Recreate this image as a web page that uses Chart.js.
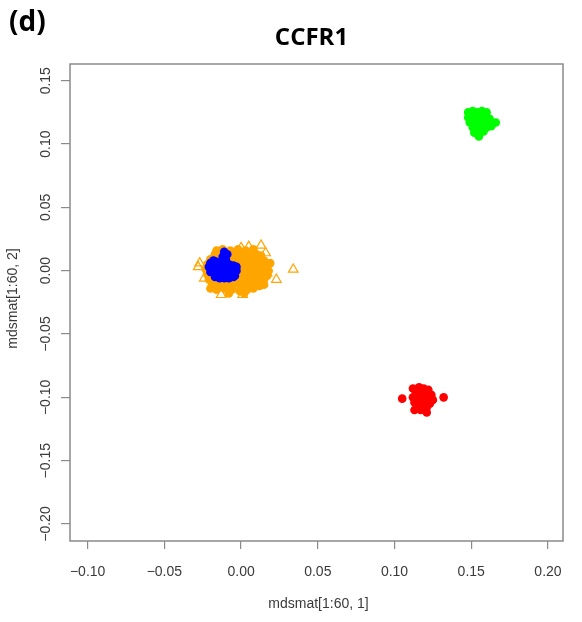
<!DOCTYPE html>
<html>
<head>
<meta charset="utf-8">
<title>CCFR1</title>
<script src="https://cdn.jsdelivr.net/npm/chart.js@4"></script>
<style>
  html, body { margin: 0; padding: 0; background: #fff; }
  canvas { display: block; }
</style>
</head>
<body>
<canvas id="mdsChart" width="582" height="622"></canvas>
<script>
// MDS coordinates, [dim 1, dim 2]
const orangeDots = [
  [-0.012, 0.017], [-0.007, 0.016], [-0.002, 0.017], [0.003, 0.016], [0.008, 0.017],
  [-0.017, 0.013], [-0.013, 0.012], [-0.008, 0.013], [-0.004, 0.012], [0.001, 0.013], [0.005, 0.012], [0.010, 0.013], [0.013, 0.012],
  [-0.020, 0.009], [-0.016, 0.008], [-0.011, 0.009], [-0.006, 0.008], [-0.002, 0.009], [0.003, 0.010], [0.007, 0.008], [0.011, 0.009], [0.015, 0.008],
  [-0.022, 0.005], [-0.018, 0.004], [-0.013, 0.005], [-0.009, 0.006], [-0.004, 0.004], [0.001, 0.005], [0.005, 0.006], [0.009, 0.004], [0.013, 0.005], [0.017, 0.004],
  [-0.023, 0.001], [-0.019, 0.000], [-0.014, 0.001], [-0.010, 0.002], [-0.005, 0.000], [0.000, 0.001], [0.004, 0.002], [0.008, 0.000], [0.012, 0.001], [0.016, 0.002], [0.018, 0.000],
  [-0.022, -0.003], [-0.018, -0.004], [-0.013, -0.002], [-0.008, -0.003], [-0.004, -0.004], [0.001, -0.003], [0.005, -0.002], [0.010, -0.004], [0.014, -0.003], [0.017, -0.004],
  [-0.021, -0.007], [-0.016, -0.008], [-0.012, -0.006], [-0.007, -0.007], [-0.002, -0.008], [0.002, -0.006], [0.007, -0.007], [0.011, -0.008], [0.015, -0.007],
  [-0.019, -0.011], [-0.014, -0.012], [-0.009, -0.010], [-0.005, -0.011], [0.000, -0.012], [0.004, -0.010], [0.009, -0.011], [0.012, -0.012],
  [-0.016, -0.015], [-0.011, -0.014], [-0.006, -0.015], [-0.001, -0.016], [0.004, -0.015], [0.008, -0.014],
  [-0.008, -0.018], [0.002, -0.018], [-0.020, -0.014], [0.015, -0.011], [0.019, 0.006], [-0.016, 0.016]
];

const orangeTriangles = [
  [0.013, 0.020], [0.034, 0.001], [0.023, -0.007], [0.017, -0.002], [-0.013, -0.019],
  [0.001, -0.019], [-0.028, 0.003], [-0.027, 0.006], [0.000, 0.018], [0.005, 0.019],
  [0.016, 0.014], [-0.024, -0.006]
];

const blueDots = [
  [-0.011, 0.015], [-0.009, 0.013], [-0.012, 0.011], [-0.010, 0.009],
  [-0.020, 0.006], [-0.018, 0.008], [-0.016, 0.007], [-0.014, 0.006], [-0.008, 0.005], [-0.005, 0.004], [-0.003, 0.003],
  [-0.021, 0.003], [-0.019, 0.002], [-0.016, 0.003], [-0.013, 0.002], [-0.011, 0.003], [-0.008, 0.001], [-0.006, 0.002], [-0.003, 0.000],
  [-0.020, -0.001], [-0.017, -0.002], [-0.014, -0.001], [-0.012, -0.003], [-0.009, -0.002], [-0.006, -0.003], [-0.004, -0.004],
  [-0.017, -0.005], [-0.014, -0.006], [-0.011, -0.006], [-0.008, -0.006], [-0.005, -0.005]
];

const redDots = [
  [0.105, -0.101], [0.132, -0.100], [0.121, -0.112], [0.112, -0.093], [0.113, -0.110],
  [0.116, -0.092], [0.119, -0.093], [0.122, -0.094], [0.114, -0.096], [0.117, -0.097],
  [0.121, -0.097], [0.124, -0.098], [0.112, -0.100], [0.115, -0.100], [0.118, -0.101],
  [0.122, -0.101], [0.125, -0.102], [0.113, -0.104], [0.116, -0.104], [0.120, -0.105],
  [0.123, -0.105], [0.115, -0.107], [0.118, -0.108], [0.121, -0.108], [0.117, -0.110]
];

const greenDots = [
  [0.148, 0.125], [0.151, 0.126], [0.154, 0.125], [0.157, 0.126], [0.160, 0.125],
  [0.148, 0.121], [0.151, 0.122], [0.154, 0.121], [0.157, 0.122], [0.160, 0.121], [0.162, 0.120],
  [0.149, 0.117], [0.152, 0.118], [0.155, 0.117], [0.158, 0.117], [0.161, 0.117], [0.164, 0.116], [0.166, 0.117],
  [0.151, 0.113], [0.154, 0.113], [0.157, 0.112], [0.160, 0.113], [0.163, 0.114],
  [0.152, 0.109], [0.155, 0.109], [0.158, 0.110], [0.155, 0.106]
];

const xTicks = { min: -0.1115, max: 0.2098, step: 0.05 };
const yTicks = { min: -0.2134, max: 0.1632, step: 0.05 };

const toXY = arr => arr.map(p => ({ x: p[0], y: p[1] }));

// R style tick text: two decimals, true minus sign
function fmt(v) {
  if (Math.abs(v) < 1e-9) return '0.00';
  return v.toFixed(2).replace('-', '\u2212');
}

const axisGray = '#8a8a8a';
const textGray = '#3a3a3a';

// frame, titles and axis labels
const decorations = {
  id: 'decorations',
  beforeDatasetsDraw(chart) {
    const { ctx, chartArea: a } = chart;
    ctx.save();
    ctx.strokeStyle = axisGray;
    ctx.lineWidth = 1.5;
    ctx.strokeRect(a.left, a.top, a.right - a.left, a.bottom - a.top);
    ctx.restore();
  },
  afterDraw(chart) {
    const { ctx, chartArea: a } = chart;
    const cx = (a.left + a.right) / 2;
    const cy = (a.top + a.bottom) / 2;
    ctx.save();
    ctx.fillStyle = '#000';
    ctx.textBaseline = 'middle';
    ctx.font = 'bold 28px "Open Sans"';
    ctx.textAlign = 'left';
    ctx.fillText('(d)', 9, 23);
    ctx.font = 'bold 24px "Open Sans"';
    ctx.textAlign = 'center';
    ctx.fillText('CCFR1', cx - 5, 38);

    ctx.fillStyle = textGray;
    ctx.font = '14px "Liberation Sans"';
    ctx.fillText('mdsmat[1:60, 1]', cx + 2, 604);
    ctx.translate(13, cy - 4);
    ctx.rotate(-Math.PI / 2);
    ctx.fillText('mdsmat[1:60, 2]', 0, 0);
    ctx.restore();
  }
};

const dotSet = (label, pts, color, order) => ({
  label: label,
  data: toXY(pts),
  pointStyle: 'circle',
  pointRadius: 4.3,
  pointBorderWidth: 0,
  backgroundColor: color,
  borderColor: color,
  order: order
});

new Chart(document.getElementById('mdsChart'), {
  type: 'scatter',
  data: {
    datasets: [
      dotSet('orange', orangeDots, '#FFA500', 4),
      {
        label: 'orange (open)',
        data: toXY(orangeTriangles),
        pointStyle: 'triangle',
        pointRadius: 5.5,
        pointBorderWidth: 1.2,
        backgroundColor: 'rgba(0,0,0,0)',
        borderColor: '#FFA500',
        order: 3
      },
      dotSet('blue', blueDots, '#0000FF', 2),
      dotSet('red', redDots, '#FF0000', 1),
      dotSet('green', greenDots, '#00FF00', 0)
    ]
  },
  options: {
    responsive: false,
    animation: false,
    layout: { padding: { top: 64, right: 19, left: 0, bottom: 0 } },
    plugins: {
      legend: { display: false },
      tooltip: { enabled: false }
    },
    scales: {
      x: {
        type: 'linear',
        min: xTicks.min,
        max: xTicks.max,
        afterFit: s => { s.height = 81; },
        border: { display: false },
        grid: { drawOnChartArea: false, drawTicks: true, tickLength: 8, color: axisGray, lineWidth: 1.2 },
        ticks: {
          stepSize: xTicks.step,
          includeBounds: false,
          padding: 15,
          color: textGray,
          font: { family: 'Liberation Sans', size: 14 },
          maxRotation: 0,
          callback: fmt
        }
      },
      y: {
        type: 'linear',
        min: yTicks.min,
        max: yTicks.max,
        afterFit: s => { s.width = 70; },
        border: { display: false },
        grid: { drawOnChartArea: false, drawTicks: true, tickLength: 9, color: axisGray, lineWidth: 1.2 },
        ticks: {
          stepSize: yTicks.step,
          includeBounds: false,
          padding: -3,
          minRotation: 90,
          maxRotation: 90,
          crossAlign: 'center',
          color: textGray,
          font: { family: 'Liberation Sans', size: 14 },
          callback: fmt
        }
      }
    }
  },
  plugins: [decorations]
});
</script>
</body>
</html>
